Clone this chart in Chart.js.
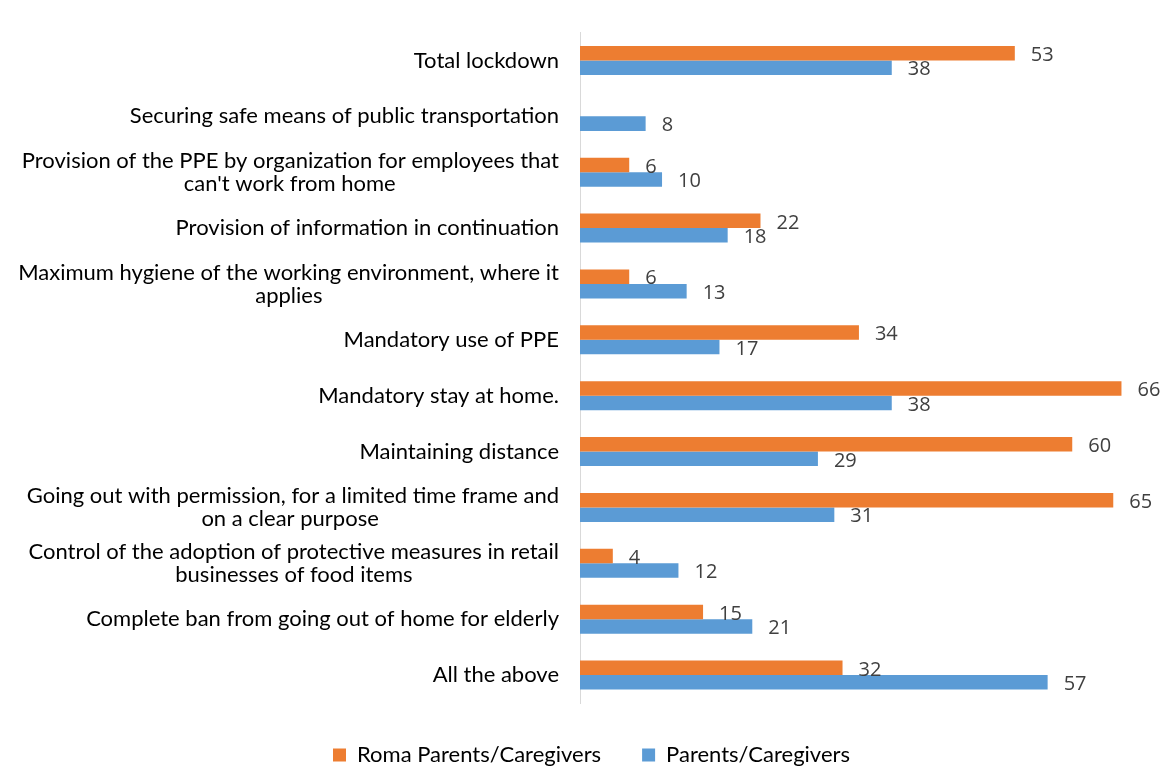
<!DOCTYPE html>
<html lang="en">
<head>
  <meta charset="UTF-8" />
  <title>Measures</title>
  <script src="https://cdn.jsdelivr.net/npm/chart.js"></script>
  <style>
    html, body {
      margin: 0;
      padding: 0;
      background: #fff;
      overflow: hidden;
    }
    #wrap {
      position: relative;
      width: 1183px;
      height: 776px;
    }
  </style>
</head>
<body>
  <div id="wrap"><canvas id="chart"></canvas></div>

  <script>
    const categories = [
      ["Total lockdown"],
      ["Securing safe means of public transportation"],
      ["Provision of the PPE by organization for employees that", "can't work from home"],
      ["Provision of information in continuation"],
      ["Maximum hygiene of the working environment, where it", "applies"],
      ["Mandatory use of PPE"],
      ["Mandatory stay at home."],
      ["Maintaining distance"],
      ["Going out with permission, for a limited time frame and", "on a clear purpose"],
      ["Control of the adoption of protective measures in retail", "businesses of food items"],
      ["Complete ban from going out of home for elderly"],
      ["All the above"]
    ];
    const seriesNames = ["Roma Parents/Caregivers", "Parents/Caregivers"];
    const romaValues = [53, null, 6, 22, 6, 34, 66, 60, 65, 4, 15, 32];
    const parentValues = [38, 8, 10, 18, 13, 17, 38, 29, 31, 12, 21, 57];

    const labelFont = { family: "Lato, 'Noto Sans', sans-serif", size: 22, lineHeight: 1.05 };

    // right-aligned ticks: pad the shorter lines so wrapped labels sit centred
    function centreLines(lines) {
      if (lines.length === 1) return lines[0];
      const ctx = document.createElement("canvas").getContext("2d");
      ctx.font = labelFont.size + "px " + labelFont.family;
      const widths = lines.map(l => ctx.measureText(l).width);
      const widest = Math.max(...widths);
      const space = ctx.measureText(" ").width;
      return lines.map((l, i) => l + " ".repeat(Math.round((widest - widths[i]) / 2 / space)));
    }

    // value printed just past the end of each bar
    const valueLabels = {
      id: "valueLabels",
      afterDatasetsDraw(chart) {
        const ctx = chart.ctx;
        ctx.save();
        ctx.font = "20px 'Open Sans', sans-serif";
        ctx.fillStyle = "#404040";
        ctx.textAlign = "left";
        ctx.textBaseline = "middle";
        chart.data.datasets.forEach((ds, i) => {
          chart.getDatasetMeta(i).data.forEach((bar, j) => {
            const v = ds.data[j];
            if (v === null || v === undefined) return;
            ctx.fillText(v, bar.x + 16, bar.y + 2);
          });
        });
        ctx.restore();
      }
    };

    new Chart(document.getElementById("chart"), {
      type: "bar",
      data: {
        labels: categories.map(centreLines),
        datasets: [
          { label: seriesNames[0], data: romaValues, backgroundColor: "#ED7D31" },
          { label: seriesNames[1], data: parentValues, backgroundColor: "#5B9BD5" }
        ]
      },
      options: {
        indexAxis: "y",
        responsive: true,
        maintainAspectRatio: false,
        animation: false,
        layout: { padding: { top: 30, right: 0, left: 0, bottom: 0 } },
        datasets: {
          bar: { categoryPercentage: 0.52, barPercentage: 1 }
        },
        scales: {
          x: {
            display: false,
            min: 0,
            max: 73.5
          },
          y: {
            afterFit(scale) { scale.width = 580; },
            grid: { display: false, drawTicks: false },
            border: { display: true, color: "#d9d9d9", width: 1 },
            ticks: {
              padding: 21,
              color: "#000",
              font: labelFont
            }
          }
        },
        plugins: {
          tooltip: { enabled: false },
          legend: {
            position: "bottom",
            labels: {
              boxWidth: 13,
              boxHeight: 13,
              padding: 41,
              color: "#000",
              font: { family: "Lato, 'Noto Sans', sans-serif", size: 22 }
            }
          }
        }
      },
      plugins: [valueLabels]
    });
  </script>
</body>
</html>
